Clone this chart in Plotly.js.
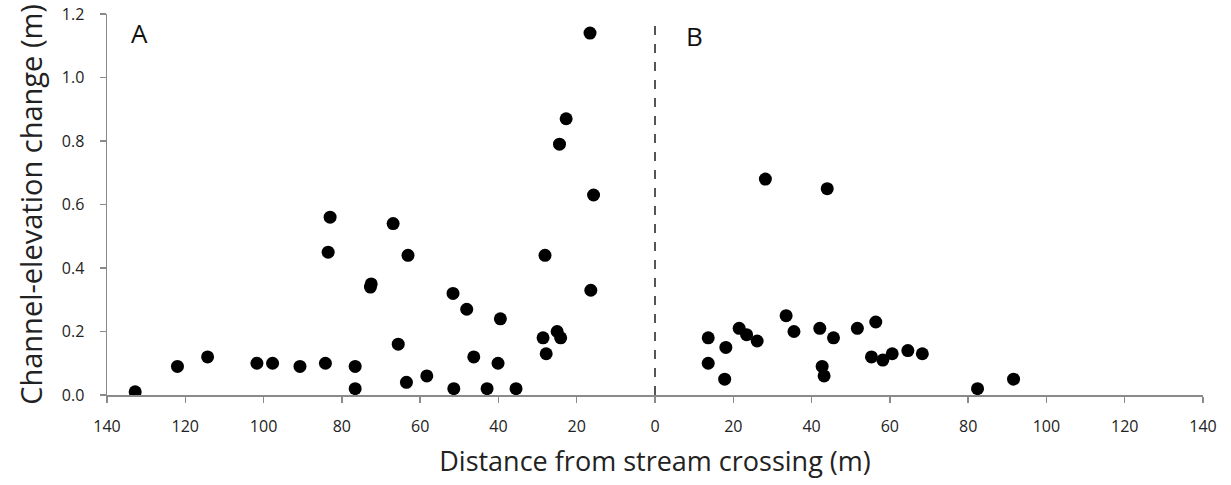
<!DOCTYPE html>
<html>
<head>
<meta charset="utf-8">
<script src="https://cdn.plot.ly/plotly-3.0.1.min.js"></script>
<style>
html,body{margin:0;padding:0;background:#fff;}
#chart{width:1231px;height:485px;}
</style>
</head>
<body>
<div id="chart"></div>
<script>
// Panel A: distance upstream (m, plotted to the left of the crossing)
const distA = [132.8, 122.0, 114.3, 101.7, 97.7, 90.7, 84.2, 83.0, 83.5, 76.6, 76.6, 72.5, 72.7,
  66.9, 65.6, 63.5, 63.1, 58.3, 51.6, 51.4, 48.1, 46.3, 42.9, 40.1, 39.5, 35.5,
  16.6, 22.7, 24.4, 15.7, 28.1, 16.4, 25.0, 28.6, 24.1, 27.8];
const changeA = [0.01, 0.09, 0.12, 0.10, 0.10, 0.09, 0.10, 0.56, 0.45, 0.09, 0.02, 0.35, 0.34,
  0.54, 0.16, 0.04, 0.44, 0.06, 0.32, 0.02, 0.27, 0.12, 0.02, 0.10, 0.24, 0.02,
  1.14, 0.87, 0.79, 0.63, 0.44, 0.33, 0.20, 0.18, 0.18, 0.13];
// Panel B: distance downstream (m)
const distB = [13.6, 13.6, 18.1, 17.8, 21.5, 23.4, 26.1, 28.2, 33.5, 35.5, 42.1, 42.7, 43.2, 44.0,
  45.6, 51.7, 56.4, 55.3, 58.2, 60.6, 64.6, 68.3, 82.4, 91.6];
const changeB = [0.18, 0.10, 0.15, 0.05, 0.21, 0.19, 0.17, 0.68, 0.25, 0.20, 0.21, 0.09, 0.06, 0.65,
  0.18, 0.21, 0.23, 0.12, 0.11, 0.13, 0.14, 0.13, 0.02, 0.05];
const tickVals = [-140, -120, -100, -80, -60, -40, -20, 0, 20, 40, 60, 80, 100, 120, 140];
const tickText = ["140", "120", "100", "80", "60", "40", "20", "0", "20", "40", "60", "80", "100", "120", "140"];
const panelLabels = ["A", "B"];

const font = "Open Sans, Noto Sans, sans-serif";
const marker = {color: "#000", size: 13, line: {width: 0}};

const traces = [
  {x: distA.map(d => -d), y: changeA, mode: "markers", type: "scatter", marker: marker, showlegend: false},
  {x: distB, y: changeB, mode: "markers", type: "scatter", marker: marker, showlegend: false}
];

const layout = {
  width: 1231, height: 485,
  margin: {l: 107, r: 28, t: 14, b: 90},
  paper_bgcolor: "#fff", plot_bgcolor: "#fff",
  font: {family: font, color: "#222"},
  xaxis: {
    range: [-140, 140], tickvals: tickVals, ticktext: tickText,
    showgrid: false, zeroline: false, showline: true, linecolor: "#8a8a8a", linewidth: 2,
    ticks: "outside", ticklen: 6, tickcolor: "#8a8a8a", tickwidth: 1.5,
    ticklabelstandoff: 10,
    tickfont: {size: 16, family: font, color: "#222"},
    title: {text: "Distance from stream crossing (m)", font: {size: 27, family: font, color: "#222"}, standoff: 16}
  },
  yaxis: {
    range: [0, 1.2], tickvals: [0, 0.2, 0.4, 0.6, 0.8, 1.0, 1.2], tickformat: ".1f",
    showgrid: false, zeroline: false, showline: true, linecolor: "#8a8a8a", linewidth: 1.5,
    ticks: "outside", ticklen: 6, tickcolor: "#8a8a8a", tickwidth: 1.5,
    ticklabelstandoff: 12,
    tickfont: {size: 16, family: font, color: "#222"},
    title: {text: "Channel-elevation change (m)", font: {size: 29, family: font, color: "#222"}, standoff: 10}
  },
  shapes: [{type: "line", xref: "x", yref: "y", x0: 0, x1: 0, y0: 0, y1: 1.18,
    line: {color: "#555", width: 2, dash: "dash"}}],
  annotations: [
    {x: -134.5, y: 1.14, xref: "x", yref: "y", text: panelLabels[0], showarrow: false, xanchor: "left", yanchor: "middle", font: {size: 26, family: font, color: "#111"}},
    {x: 7.5, y: 1.13, xref: "x", yref: "y", text: panelLabels[1], showarrow: false, xanchor: "left", yanchor: "middle", font: {size: 26, family: font, color: "#111"}}
  ]
};
Plotly.newPlot("chart", traces, layout, {displayModeBar: false, staticPlot: true});
</script>
</body>
</html>
